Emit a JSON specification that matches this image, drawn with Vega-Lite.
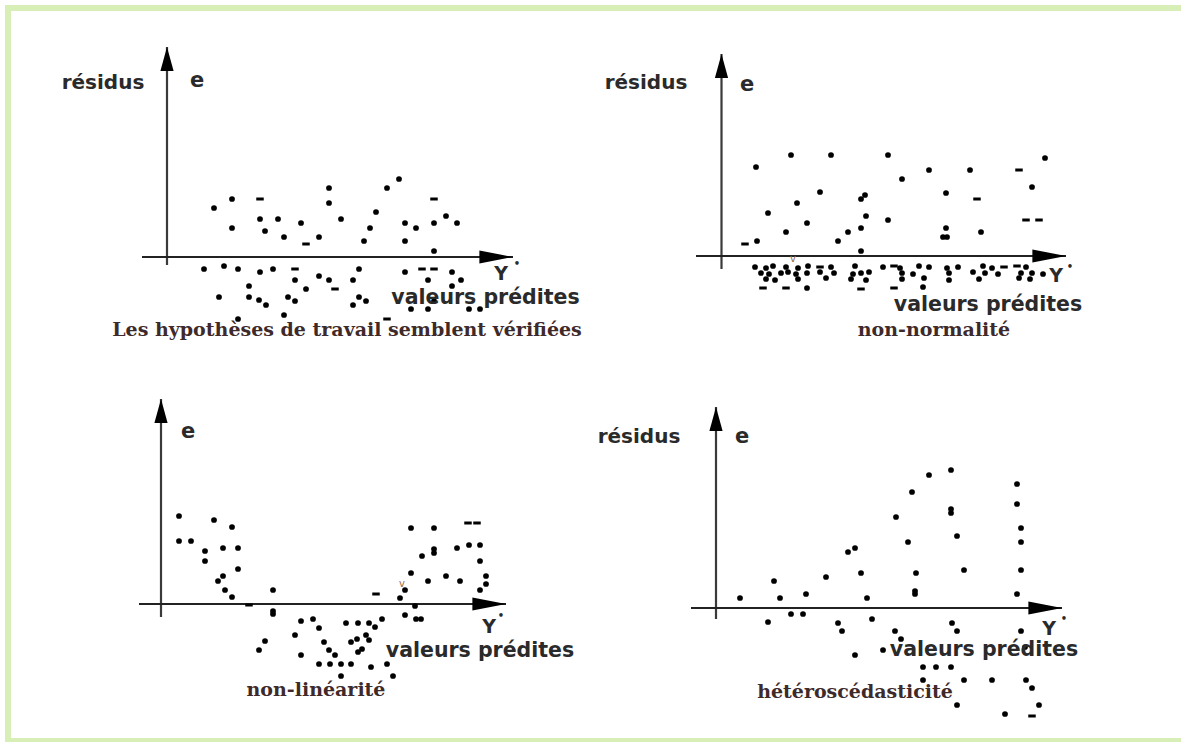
{
  "$schema": "https://vega.github.io/schema/vega-lite/v6.json",
  "background": "white",
  "padding": {"left": 3, "top": 3, "right": 0, "bottom": 0},
  "bounds": "flush",
  "spacing": {"row": 0, "column": 0},
  "config": {"view": {"stroke": null}},
  "data": {"values": [
    {"r":0,"c":0,"k":"fv","x":-15.4,"y":24.9,"y2":-48.4},
    {"r":0,"c":0,"k":"fh","x":-15.4,"x2":101.6,"y":24.9},
    {"r":0,"c":0,"k":"fh","x":-15.4,"x2":101.6,"y":-48.4},

    {"r":0,"c":0,"k":"vax","x":0.5,"y":-0.8,"y2":21.0},
    {"r":0,"c":0,"k":"hax","x":-2.0,"x2":35.1,"y":0},
    {"r":0,"c":1,"k":"vax","x":0.45,"y":-1.2,"y2":20.3},
    {"r":0,"c":1,"k":"hax","x":-2.1,"x2":34.9,"y":0.1},
    {"r":1,"c":0,"k":"vax","x":-0.1,"y":-1.1,"y2":20.7},
    {"r":1,"c":0,"k":"hax","x":-2.3,"x2":34.4,"y":0.2},
    {"r":1,"c":1,"k":"vax","x":-0.1,"y":-1.3,"y2":19.9},
    {"r":1,"c":1,"k":"hax","x":-2.6,"x2":34.5,"y":-0.2},

    {"r":0,"c":0,"k":"ylab","t":"résidus","x":-5.9,"y":17.4},
    {"r":0,"c":0,"k":"elab","t":"e","x":3.5,"y":17.6},
    {"r":0,"c":0,"k":"yhat","t":"Y","x":33.9,"y":-1.7},
    {"r":0,"c":0,"k":"sup","t":"•","x":35.5,"y":-0.7},
    {"r":0,"c":0,"k":"xlab","t":"valeurs prédites","x":32.35,"y":-4.1},
    {"r":0,"c":0,"k":"cap","t":"Les hypothèses de travail semblent vérifiées","x":18.5,"y":-7.3},
    {"r":0,"c":1,"k":"ylab","t":"résidus","x":-7.1,"y":17.4},
    {"r":0,"c":1,"k":"elab","t":"e","x":3.0,"y":17.2},
    {"r":0,"c":1,"k":"yhat","t":"Y","x":33.9,"y":-1.9},
    {"r":0,"c":1,"k":"sup","t":"•","x":35.3,"y":-1.0},
    {"r":0,"c":1,"k":"xlab","t":"valeurs prédites","x":27.1,"y":-4.8},
    {"r":0,"c":1,"k":"cap","t":"non-normalité","x":21.7,"y":-7.3},
    {"r":0,"c":1,"k":"vv","t":"v","x":7.6,"y":-0.2},
    {"r":1,"c":0,"k":"elab","t":"e","x":2.6,"y":17.4},
    {"r":1,"c":0,"k":"yhat","t":"Y","x":32.7,"y":-2.1},
    {"r":1,"c":0,"k":"sup","t":"•","x":33.9,"y":-1.0},
    {"r":1,"c":0,"k":"xlab","t":"valeurs prédites","x":31.8,"y":-4.5},
    {"r":1,"c":0,"k":"cap","t":"non-linéarité","x":15.4,"y":-8.4},
    {"r":1,"c":0,"k":"vv","t":"v","x":24.0,"y":2.2},
    {"r":1,"c":1,"k":"ylab","t":"résidus","x":-7.8,"y":16.9},
    {"r":1,"c":1,"k":"elab","t":"e","x":2.5,"y":16.9},
    {"r":1,"c":1,"k":"yhat","t":"Y","x":33.2,"y":-2.3},
    {"r":1,"c":1,"k":"sup","t":"•","x":34.7,"y":-1.3},
    {"r":1,"c":1,"k":"xlab","t":"valeurs prédites","x":26.7,"y":-4.4},
    {"r":1,"c":1,"k":"cap","t":"hétéroscédasticité","x":13.8,"y":-8.6},

    {"r":0,"c":0,"k":"dot","x":5.2,"y":4.9},{"r":0,"c":0,"k":"dot","x":7.0,"y":5.8},{"r":0,"c":0,"k":"dot","x":7.0,"y":2.9},
    {"r":0,"c":0,"k":"dot","x":9.8,"y":3.8},{"r":0,"c":0,"k":"dot","x":10.3,"y":2.6},{"r":0,"c":0,"k":"dot","x":11.6,"y":3.8},
    {"r":0,"c":0,"k":"dot","x":12.2,"y":2.0},{"r":0,"c":0,"k":"dot","x":13.9,"y":3.4},{"r":0,"c":0,"k":"dot","x":15.7,"y":2.0},
    {"r":0,"c":0,"k":"dot","x":16.7,"y":6.9},{"r":0,"c":0,"k":"dot","x":16.7,"y":5.4},{"r":0,"c":0,"k":"dot","x":17.9,"y":3.8},
    {"r":0,"c":0,"k":"dot","x":20.2,"y":1.6},{"r":0,"c":0,"k":"dot","x":20.8,"y":2.9},{"r":0,"c":0,"k":"dot","x":21.4,"y":4.5},
    {"r":0,"c":0,"k":"dot","x":22.5,"y":6.9},{"r":0,"c":0,"k":"dot","x":23.7,"y":7.8},{"r":0,"c":0,"k":"dot","x":24.3,"y":3.4},
    {"r":0,"c":0,"k":"dot","x":24.3,"y":1.6},{"r":0,"c":0,"k":"dot","x":25.4,"y":2.9},{"r":0,"c":0,"k":"dot","x":27.2,"y":3.4},
    {"r":0,"c":0,"k":"dot","x":28.4,"y":4.1},{"r":0,"c":0,"k":"dot","x":29.5,"y":3.4},{"r":0,"c":0,"k":"dot","x":27.2,"y":0.6},
    {"r":0,"c":0,"k":"dot","x":4.2,"y":-1.2},{"r":0,"c":0,"k":"dot","x":6.2,"y":-0.9},{"r":0,"c":0,"k":"dot","x":7.6,"y":-1.2},
    {"r":0,"c":0,"k":"dot","x":9.8,"y":-1.5},{"r":0,"c":0,"k":"dot","x":11.1,"y":-1.2},{"r":0,"c":0,"k":"dot","x":13.3,"y":-2.3},
    {"r":0,"c":0,"k":"dot","x":14.4,"y":-3.2},{"r":0,"c":0,"k":"dot","x":8.7,"y":-2.9},{"r":0,"c":0,"k":"dot","x":5.7,"y":-4.0},
    {"r":0,"c":0,"k":"dot","x":8.7,"y":-4.0},{"r":0,"c":0,"k":"dot","x":9.7,"y":-4.3},{"r":0,"c":0,"k":"dot","x":10.4,"y":-4.8},
    {"r":0,"c":0,"k":"dot","x":12.6,"y":-4.0},{"r":0,"c":0,"k":"dot","x":13.3,"y":-4.4},{"r":0,"c":0,"k":"dot","x":12.2,"y":-5.8},
    {"r":0,"c":0,"k":"dot","x":7.6,"y":-6.2},{"r":0,"c":0,"k":"dot","x":15.7,"y":-1.9},{"r":0,"c":0,"k":"dot","x":16.7,"y":-2.3},
    {"r":0,"c":0,"k":"dot","x":19.7,"y":-1.2},{"r":0,"c":0,"k":"dot","x":19.1,"y":-2.3},{"r":0,"c":0,"k":"dot","x":19.7,"y":-4.0},
    {"r":0,"c":0,"k":"dot","x":20.4,"y":-4.4},{"r":0,"c":0,"k":"dot","x":19.1,"y":-4.8},{"r":0,"c":0,"k":"dot","x":24.3,"y":-1.5},
    {"r":0,"c":0,"k":"dot","x":29.0,"y":-1.5},{"r":0,"c":0,"k":"dot","x":26.6,"y":-2.3},{"r":0,"c":0,"k":"dot","x":29.9,"y":-2.3},
    {"r":0,"c":0,"k":"dot","x":29.0,"y":-2.9},{"r":0,"c":0,"k":"dot","x":27.2,"y":-4.4},{"r":0,"c":0,"k":"dot","x":24.9,"y":-5.2},
    {"r":0,"c":0,"k":"dot","x":26.6,"y":-5.2},{"r":0,"c":0,"k":"dot","x":30.7,"y":-5.2},{"r":0,"c":0,"k":"dot","x":31.8,"y":-5.2},
    {"r":0,"c":0,"k":"dash","x":9.8,"y":5.8},{"r":0,"c":0,"k":"dash","x":14.4,"y":1.3},{"r":0,"c":0,"k":"dash","x":27.2,"y":5.8},
    {"r":0,"c":0,"k":"dash","x":13.3,"y":-1.2},{"r":0,"c":0,"k":"dash","x":17.3,"y":-3.2},{"r":0,"c":0,"k":"dash","x":22.5,"y":-6.2},
    {"r":0,"c":0,"k":"dash","x":26.0,"y":-1.2},{"r":0,"c":0,"k":"dash","x":27.2,"y":-1.2},

    {"r":0,"c":1,"k":"dot","x":3.9,"y":9.0},{"r":0,"c":1,"k":"dot","x":7.4,"y":10.2},{"r":0,"c":1,"k":"dot","x":11.4,"y":10.2},
    {"r":0,"c":1,"k":"dot","x":17.1,"y":10.2},{"r":0,"c":1,"k":"dot","x":21.2,"y":8.7},{"r":0,"c":1,"k":"dot","x":25.3,"y":8.7},
    {"r":0,"c":1,"k":"dot","x":32.8,"y":9.9},{"r":0,"c":1,"k":"dot","x":18.5,"y":7.8},{"r":0,"c":1,"k":"dot","x":10.3,"y":6.5},
    {"r":0,"c":1,"k":"dot","x":8.0,"y":5.4},{"r":0,"c":1,"k":"dot","x":14.8,"y":6.2},{"r":0,"c":1,"k":"dot","x":14.4,"y":5.8},
    {"r":0,"c":1,"k":"dot","x":22.9,"y":6.4},{"r":0,"c":1,"k":"dot","x":31.5,"y":7.0},{"r":0,"c":1,"k":"dot","x":5.1,"y":4.4},
    {"r":0,"c":1,"k":"dot","x":9.0,"y":3.4},{"r":0,"c":1,"k":"dot","x":14.9,"y":4.1},{"r":0,"c":1,"k":"dot","x":17.1,"y":3.7},
    {"r":0,"c":1,"k":"dot","x":6.9,"y":2.5},{"r":0,"c":1,"k":"dot","x":13.1,"y":2.5},{"r":0,"c":1,"k":"dot","x":14.4,"y":2.9},
    {"r":0,"c":1,"k":"dot","x":12.1,"y":1.6},{"r":0,"c":1,"k":"dot","x":22.9,"y":2.9},{"r":0,"c":1,"k":"dot","x":22.6,"y":2.0},
    {"r":0,"c":1,"k":"dot","x":23.0,"y":2.0},{"r":0,"c":1,"k":"dot","x":26.4,"y":2.5},{"r":0,"c":1,"k":"dot","x":4.0,"y":1.6},
    {"r":0,"c":1,"k":"dot","x":14.4,"y":0.6},
    {"r":0,"c":1,"k":"dot","x":3.8,"y":-1.0},{"r":0,"c":1,"k":"dot","x":4.9,"y":-1.1},{"r":0,"c":1,"k":"dot","x":5.6,"y":-0.9},
    {"r":0,"c":1,"k":"dot","x":6.9,"y":-1.0},{"r":0,"c":1,"k":"dot","x":8.1,"y":-1.1},{"r":0,"c":1,"k":"dot","x":9.1,"y":-0.9},
    {"r":0,"c":1,"k":"dot","x":11.4,"y":-1.0},{"r":0,"c":1,"k":"dot","x":13.8,"y":-0.9},{"r":0,"c":1,"k":"dot","x":16.6,"y":-1.0},
    {"r":0,"c":1,"k":"dot","x":18.3,"y":-1.1},{"r":0,"c":1,"k":"dot","x":20.2,"y":-0.9},{"r":0,"c":1,"k":"dot","x":21.2,"y":-1.0},
    {"r":0,"c":1,"k":"dot","x":23.0,"y":-1.1},{"r":0,"c":1,"k":"dot","x":24.1,"y":-1.0},{"r":0,"c":1,"k":"dot","x":26.6,"y":-0.9},
    {"r":0,"c":1,"k":"dot","x":27.5,"y":-1.1},{"r":0,"c":1,"k":"dot","x":30.9,"y":-1.0},
    {"r":0,"c":1,"k":"dot","x":4.4,"y":-1.6},{"r":0,"c":1,"k":"dot","x":5.2,"y":-1.7},{"r":0,"c":1,"k":"dot","x":6.4,"y":-1.6},
    {"r":0,"c":1,"k":"dot","x":7.1,"y":-1.5},{"r":0,"c":1,"k":"dot","x":7.9,"y":-1.7},{"r":0,"c":1,"k":"dot","x":9.0,"y":-1.6},
    {"r":0,"c":1,"k":"dot","x":10.3,"y":-1.5},{"r":0,"c":1,"k":"dot","x":11.7,"y":-1.6},{"r":0,"c":1,"k":"dot","x":13.6,"y":-1.7},
    {"r":0,"c":1,"k":"dot","x":14.4,"y":-1.6},{"r":0,"c":1,"k":"dot","x":15.2,"y":-1.5},{"r":0,"c":1,"k":"dot","x":18.5,"y":-1.6},
    {"r":0,"c":1,"k":"dot","x":19.6,"y":-1.7},{"r":0,"c":1,"k":"dot","x":23.2,"y":-1.6},{"r":0,"c":1,"k":"dot","x":25.6,"y":-1.5},
    {"r":0,"c":1,"k":"dot","x":26.8,"y":-1.6},{"r":0,"c":1,"k":"dot","x":28.1,"y":-1.7},{"r":0,"c":1,"k":"dot","x":30.4,"y":-1.6},
    {"r":0,"c":1,"k":"dot","x":31.5,"y":-1.6},{"r":0,"c":1,"k":"dot","x":32.6,"y":-1.7},
    {"r":0,"c":1,"k":"dot","x":4.9,"y":-2.2},{"r":0,"c":1,"k":"dot","x":5.8,"y":-2.3},{"r":0,"c":1,"k":"dot","x":8.1,"y":-2.2},
    {"r":0,"c":1,"k":"dot","x":10.9,"y":-2.1},{"r":0,"c":1,"k":"dot","x":13.4,"y":-2.2},{"r":0,"c":1,"k":"dot","x":14.9,"y":-2.3},
    {"r":0,"c":1,"k":"dot","x":18.5,"y":-2.2},{"r":0,"c":1,"k":"dot","x":20.7,"y":-2.1},{"r":0,"c":1,"k":"dot","x":23.2,"y":-2.3},
    {"r":0,"c":1,"k":"dot","x":26.2,"y":-2.2},{"r":0,"c":1,"k":"dot","x":30.2,"y":-2.1},{"r":0,"c":1,"k":"dot","x":31.3,"y":-2.2},
    {"r":0,"c":1,"k":"dot","x":9.0,"y":-3.1},{"r":0,"c":1,"k":"dot","x":20.6,"y":-3.0},
    {"r":0,"c":1,"k":"dash","x":4.6,"y":-3.1},{"r":0,"c":1,"k":"dash","x":6.9,"y":-3.1},{"r":0,"c":1,"k":"dash","x":14.4,"y":-3.2},
    {"r":0,"c":1,"k":"dash","x":17.7,"y":-3.1},{"r":0,"c":1,"k":"dash","x":10.3,"y":-1.0},{"r":0,"c":1,"k":"dash","x":17.7,"y":-0.9},
    {"r":0,"c":1,"k":"dash","x":28.7,"y":-1.0},{"r":0,"c":1,"k":"dash","x":30.0,"y":-0.9},
    {"r":0,"c":1,"k":"dash","x":30.2,"y":8.7},{"r":0,"c":1,"k":"dash","x":26.0,"y":5.8},{"r":0,"c":1,"k":"dash","x":30.9,"y":3.7},
    {"r":0,"c":1,"k":"dash","x":32.2,"y":3.7},{"r":0,"c":1,"k":"dash","x":2.8,"y":1.3},

    {"r":1,"c":0,"k":"dot","x":1.7,"y":9.0},{"r":1,"c":0,"k":"dot","x":1.7,"y":6.5},{"r":1,"c":0,"k":"dot","x":2.9,"y":6.5},
    {"r":1,"c":0,"k":"dot","x":5.2,"y":8.6},{"r":1,"c":0,"k":"dot","x":7.0,"y":7.9},{"r":1,"c":0,"k":"dot","x":4.3,"y":5.5},
    {"r":1,"c":0,"k":"dot","x":4.3,"y":4.5},{"r":1,"c":0,"k":"dot","x":6.1,"y":5.8},{"r":1,"c":0,"k":"dot","x":7.6,"y":5.8},
    {"r":1,"c":0,"k":"dot","x":7.6,"y":3.7},{"r":1,"c":0,"k":"dot","x":6.1,"y":3.0},{"r":1,"c":0,"k":"dot","x":5.6,"y":2.5},
    {"r":1,"c":0,"k":"dot","x":6.3,"y":1.6},{"r":1,"c":0,"k":"dot","x":7.0,"y":0.9},{"r":1,"c":0,"k":"dot","x":11.1,"y":1.6},
    {"r":1,"c":0,"k":"dot","x":11.1,"y":-0.5},{"r":1,"c":0,"k":"dot","x":11.1,"y":-0.8},{"r":1,"c":0,"k":"dot","x":10.3,"y":-3.5},
    {"r":1,"c":0,"k":"dot","x":9.7,"y":-4.4},{"r":1,"c":0,"k":"dot","x":13.9,"y":-1.5},{"r":1,"c":0,"k":"dot","x":15.1,"y":-1.3},
    {"r":1,"c":0,"k":"dot","x":15.7,"y":-2.2},{"r":1,"c":0,"k":"dot","x":13.3,"y":-2.9},{"r":1,"c":0,"k":"dot","x":13.9,"y":-4.9},
    {"r":1,"c":0,"k":"dot","x":16.2,"y":-3.6},{"r":1,"c":0,"k":"dot","x":16.7,"y":-4.4},{"r":1,"c":0,"k":"dot","x":17.3,"y":-4.9},
    {"r":1,"c":0,"k":"dot","x":15.7,"y":-5.8},{"r":1,"c":0,"k":"dot","x":16.8,"y":-5.8},{"r":1,"c":0,"k":"dot","x":17.9,"y":-5.8},
    {"r":1,"c":0,"k":"dot","x":17.9,"y":-7.0},{"r":1,"c":0,"k":"dot","x":18.9,"y":-5.8},{"r":1,"c":0,"k":"dot","x":18.4,"y":-1.7},
    {"r":1,"c":0,"k":"dot","x":19.6,"y":-1.7},{"r":1,"c":0,"k":"dot","x":20.7,"y":-1.7},{"r":1,"c":0,"k":"dot","x":21.3,"y":-2.1},
    {"r":1,"c":0,"k":"dot","x":22.0,"y":-1.3},{"r":1,"c":0,"k":"dot","x":18.9,"y":-3.6},{"r":1,"c":0,"k":"dot","x":19.5,"y":-3.3},
    {"r":1,"c":0,"k":"dot","x":20.4,"y":-2.9},{"r":1,"c":0,"k":"dot","x":20.7,"y":-3.4},{"r":1,"c":0,"k":"dot","x":20.0,"y":-4.3},
    {"r":1,"c":0,"k":"dot","x":19.6,"y":-4.6},{"r":1,"c":0,"k":"dot","x":20.9,"y":-6.1},{"r":1,"c":0,"k":"dot","x":22.5,"y":-5.8},
    {"r":1,"c":0,"k":"dot","x":23.1,"y":-7.0},{"r":1,"c":0,"k":"dot","x":23.8,"y":0.8},{"r":1,"c":0,"k":"dot","x":24.3,"y":1.6},
    {"r":1,"c":0,"k":"dot","x":24.3,"y":-0.9},{"r":1,"c":0,"k":"dot","x":25.3,"y":0.0},{"r":1,"c":0,"k":"dot","x":25.4,"y":-1.3},
    {"r":1,"c":0,"k":"dot","x":25.9,"y":-1.3},{"r":1,"c":0,"k":"dot","x":24.9,"y":7.8},{"r":1,"c":0,"k":"dot","x":27.2,"y":7.8},
    {"r":1,"c":0,"k":"dot","x":26.0,"y":5.0},{"r":1,"c":0,"k":"dot","x":27.2,"y":5.7},{"r":1,"c":0,"k":"dot","x":27.2,"y":5.3},
    {"r":1,"c":0,"k":"dot","x":24.9,"y":3.3},{"r":1,"c":0,"k":"dot","x":26.6,"y":2.5},{"r":1,"c":0,"k":"dot","x":28.4,"y":3.0},
    {"r":1,"c":0,"k":"dot","x":29.5,"y":5.8},{"r":1,"c":0,"k":"dot","x":29.8,"y":2.5},{"r":1,"c":0,"k":"dot","x":30.7,"y":6.1},
    {"r":1,"c":0,"k":"dot","x":31.8,"y":6.1},{"r":1,"c":0,"k":"dot","x":31.8,"y":4.5},{"r":1,"c":0,"k":"dot","x":32.4,"y":3.0},
    {"r":1,"c":0,"k":"dot","x":32.4,"y":2.2},{"r":1,"c":0,"k":"dot","x":31.8,"y":1.6},
    {"r":1,"c":0,"k":"dash","x":8.7,"y":0.1},{"r":1,"c":0,"k":"dash","x":21.4,"y":1.2},{"r":1,"c":0,"k":"dash","x":30.6,"y":8.3},
    {"r":1,"c":0,"k":"dash","x":31.5,"y":8.3},

    {"r":1,"c":1,"k":"dot","x":21.2,"y":13.1},{"r":1,"c":1,"k":"dot","x":23.4,"y":13.6},{"r":1,"c":1,"k":"dot","x":19.5,"y":11.4},
    {"r":1,"c":1,"k":"dot","x":30.0,"y":12.2},{"r":1,"c":1,"k":"dot","x":30.0,"y":10.2},{"r":1,"c":1,"k":"dot","x":23.4,"y":9.7},
    {"r":1,"c":1,"k":"dot","x":23.4,"y":9.3},{"r":1,"c":1,"k":"dot","x":17.9,"y":8.9},{"r":1,"c":1,"k":"dot","x":30.4,"y":7.8},
    {"r":1,"c":1,"k":"dot","x":24.0,"y":7.0},{"r":1,"c":1,"k":"dot","x":19.1,"y":6.4},{"r":1,"c":1,"k":"dot","x":30.4,"y":6.4},
    {"r":1,"c":1,"k":"dot","x":13.1,"y":5.4},{"r":1,"c":1,"k":"dot","x":13.8,"y":5.8},{"r":1,"c":1,"k":"dot","x":14.4,"y":3.3},
    {"r":1,"c":1,"k":"dot","x":19.9,"y":3.3},{"r":1,"c":1,"k":"dot","x":24.7,"y":3.6},{"r":1,"c":1,"k":"dot","x":30.4,"y":3.6},
    {"r":1,"c":1,"k":"dot","x":10.9,"y":2.9},{"r":1,"c":1,"k":"dot","x":5.7,"y":2.5},{"r":1,"c":1,"k":"dot","x":19.8,"y":1.5},
    {"r":1,"c":1,"k":"dot","x":19.8,"y":1.2},{"r":1,"c":1,"k":"dot","x":2.3,"y":0.8},{"r":1,"c":1,"k":"dot","x":6.3,"y":0.8},
    {"r":1,"c":1,"k":"dot","x":8.9,"y":1.2},{"r":1,"c":1,"k":"dot","x":15.0,"y":0.8},{"r":1,"c":1,"k":"dot","x":30.0,"y":1.2},
    {"r":1,"c":1,"k":"dot","x":5.1,"y":-1.6},{"r":1,"c":1,"k":"dot","x":7.4,"y":-0.8},{"r":1,"c":1,"k":"dot","x":8.6,"y":-0.8},
    {"r":1,"c":1,"k":"dot","x":12.1,"y":-1.7},{"r":1,"c":1,"k":"dot","x":12.5,"y":-2.5},{"r":1,"c":1,"k":"dot","x":15.5,"y":-1.3},
    {"r":1,"c":1,"k":"dot","x":17.8,"y":-2.5},{"r":1,"c":1,"k":"dot","x":18.4,"y":-3.3},{"r":1,"c":1,"k":"dot","x":13.8,"y":-4.9},
    {"r":1,"c":1,"k":"dot","x":16.6,"y":-4.4},{"r":1,"c":1,"k":"dot","x":23.5,"y":-1.7},{"r":1,"c":1,"k":"dot","x":24.0,"y":-2.5},
    {"r":1,"c":1,"k":"dot","x":30.4,"y":-2.5},{"r":1,"c":1,"k":"dot","x":30.8,"y":-4.1},{"r":1,"c":1,"k":"dot","x":20.6,"y":-6.1},
    {"r":1,"c":1,"k":"dot","x":21.9,"y":-6.1},{"r":1,"c":1,"k":"dot","x":23.4,"y":-6.1},{"r":1,"c":1,"k":"dot","x":20.6,"y":-7.4},
    {"r":1,"c":1,"k":"dot","x":24.7,"y":-7.4},{"r":1,"c":1,"k":"dot","x":27.5,"y":-7.4},{"r":1,"c":1,"k":"dot","x":30.9,"y":-7.4},
    {"r":1,"c":1,"k":"dot","x":31.5,"y":-8.2},{"r":1,"c":1,"k":"dot","x":24.0,"y":-9.9},{"r":1,"c":1,"k":"dot","x":28.8,"y":-10.8},
    {"r":1,"c":1,"k":"dot","x":32.2,"y":-9.9},
    {"r":1,"c":1,"k":"dash","x":31.5,"y":-11.0}
  ]},
  "facet": {
    "row": {"field": "r", "type": "ordinal", "header": null},
    "column": {"field": "c", "type": "ordinal", "header": null}
  },
  "spec": {
    "width": 555,
    "height": 349,
    "encoding": {
      "x": {"field": "x", "type": "quantitative", "scale": {"domain": [-15, 40.5], "nice": false, "zero": false}, "axis": null},
      "y": {"field": "y", "type": "quantitative", "scale": {"domain": [-9.9, 25], "nice": false, "zero": false}, "axis": null}
    },
    "layer": [
      {
        "transform": [{"filter": "datum.k === 'fv'"}],
        "mark": {"type": "rule", "color": "#d7eeb6", "strokeWidth": 6, "strokeCap": "square"},
        "encoding": {"y2": {"field": "y2"}}
      },
      {
        "transform": [{"filter": "datum.k === 'fh'"}],
        "mark": {"type": "rule", "color": "#d7eeb6", "strokeWidth": 6, "strokeCap": "square"},
        "encoding": {"x2": {"field": "x2"}}
      },
      {
        "transform": [{"filter": "datum.k === 'vax'"}],
        "mark": {"type": "rule", "color": "#3a3a3a", "strokeWidth": 2.2},
        "encoding": {"y2": {"field": "y2"}}
      },
      {
        "transform": [{"filter": "datum.k === 'hax'"}],
        "mark": {"type": "rule", "color": "#222222", "strokeWidth": 2},
        "encoding": {"x2": {"field": "x2"}}
      },
      {
        "transform": [{"filter": "datum.k === 'vax'"}],
        "mark": {"type": "point", "shape": "M0,0L0.55,2L-0.55,2Z", "filled": true, "color": "#000000", "size": 576, "opacity": 1},
        "encoding": {"y": {"field": "y2", "type": "quantitative", "scale": {"domain": [-9.9, 25], "nice": false, "zero": false}, "axis": null}}
      },
      {
        "transform": [{"filter": "datum.k === 'hax'"}],
        "mark": {"type": "point", "shape": "M0,0L-2.8,0.55L-2.8,-0.55Z", "filled": true, "color": "#000000", "size": 576, "opacity": 1},
        "encoding": {"x": {"field": "x2", "type": "quantitative", "scale": {"domain": [-15, 40.5], "nice": false, "zero": false}, "axis": null}}
      },
      {
        "transform": [{"filter": "datum.k === 'dot'"}],
        "mark": {"type": "point", "shape": "circle", "filled": true, "color": "#000000", "size": 33, "opacity": 1}
      },
      {
        "transform": [{"filter": "datum.k === 'dash'"}],
        "mark": {"type": "point", "shape": "stroke", "filled": false, "color": "#000000", "size": 56, "strokeWidth": 3, "opacity": 1}
      },
      {
        "transform": [{"filter": "datum.k === 'ylab'"}],
        "mark": {"type": "text", "font": "DejaVu Sans", "fontWeight": "bold", "fontSize": 20, "color": "#2a2a2a", "align": "center", "baseline": "middle"},
        "encoding": {"text": {"field": "t"}}
      },
      {
        "transform": [{"filter": "datum.k === 'elab'"}],
        "mark": {"type": "text", "font": "DejaVu Sans", "fontWeight": "bold", "fontSize": 21, "color": "#2a2a2a", "align": "center", "baseline": "middle"},
        "encoding": {"text": {"field": "t"}}
      },
      {
        "transform": [{"filter": "datum.k === 'yhat'"}],
        "mark": {"type": "text", "font": "DejaVu Sans", "fontWeight": "bold", "fontSize": 19, "color": "#2a2a2a", "align": "center", "baseline": "middle"},
        "encoding": {"text": {"field": "t"}}
      },
      {
        "transform": [{"filter": "datum.k === 'sup'"}],
        "mark": {"type": "text", "font": "DejaVu Sans", "fontWeight": "bold", "fontSize": 10, "color": "#2a2a2a", "align": "center", "baseline": "middle"},
        "encoding": {"text": {"field": "t"}}
      },
      {
        "transform": [{"filter": "datum.k === 'xlab'"}],
        "mark": {"type": "text", "font": "DejaVu Sans", "fontWeight": "bold", "fontSize": 20.5, "color": "#2a2a2a", "align": "center", "baseline": "middle"},
        "encoding": {"text": {"field": "t"}}
      },
      {
        "transform": [{"filter": "datum.k === 'cap'"}],
        "mark": {"type": "text", "font": "DejaVu Serif", "fontWeight": "bold", "fontSize": 19, "color": "#3e2a2a", "align": "center", "baseline": "middle"},
        "encoding": {"text": {"field": "t"}}
      },
      {
        "transform": [{"filter": "datum.k === 'vv'"}],
        "mark": {"type": "text", "font": "DejaVu Sans", "fontSize": 10, "color": "#9a6a4a", "align": "center", "baseline": "middle"},
        "encoding": {"text": {"field": "t"}}
      }
    ]
  }
}
